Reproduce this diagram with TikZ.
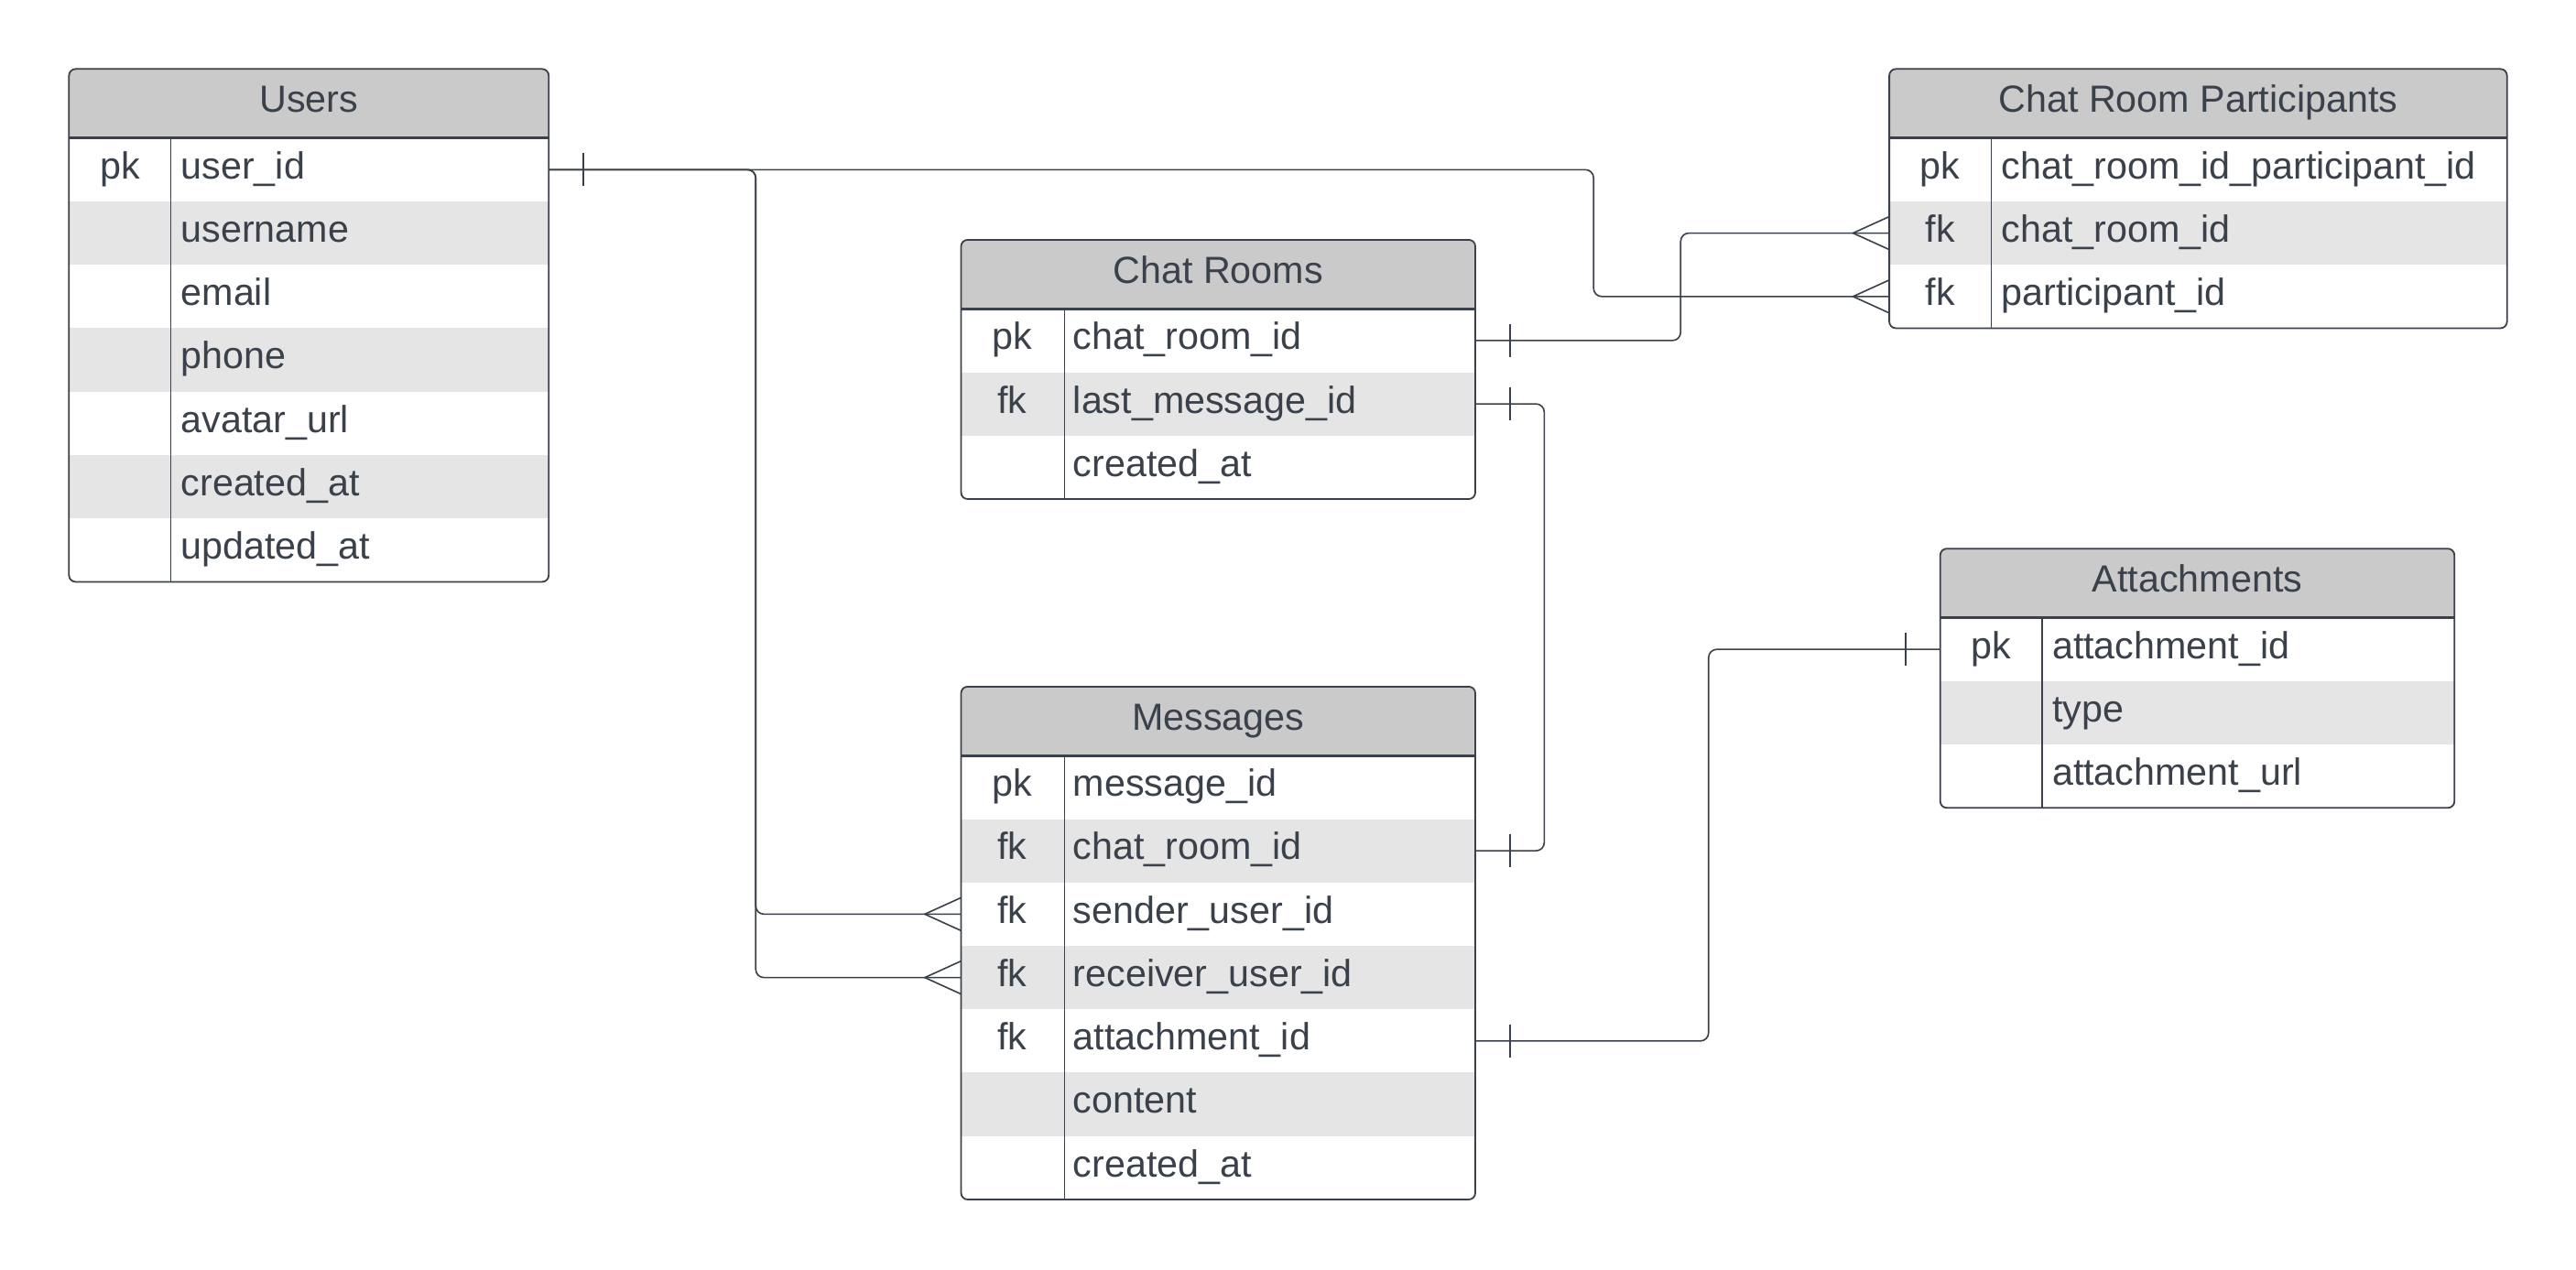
\documentclass[tikz,border=0pt]{standalone}
\usepackage{fontspec}
\setmainfont{Liberation Sans}
\usetikzlibrary{positioning,decorations.markings}
\definecolor{ink}{HTML}{3A414A}
\definecolor{headgray}{HTML}{CACACA}
\definecolor{rowgray}{HTML}{E5E5E5}
\tikzset{every node/.style={text=ink, font=\fontsize{23}{27}\selectfont, text height=17pt, text depth=6pt},
  tblhead/.style={minimum width=#1, minimum height=42pt, inner sep=0pt, outer sep=0pt, fill=headgray, rounded corners=4pt, anchor=north west},
  tblrow/.style 2 args={minimum width=#2, minimum height=38.6pt, inner sep=0pt, outer sep=0pt, fill=#1},
  keycell/.style={anchor=center, xshift=31pt, inner sep=0pt},
  fldcell/.style={anchor=west, xshift=68pt, inner sep=0pt},
  tblframe/.style={draw=ink, line width=1pt, rounded corners=4pt},
  hsep/.style={draw=ink, line width=1.4pt},
  vsep/.style={draw=ink, line width=0.6pt},
  relline/.style={draw=ink, line width=0.9pt, rounded corners=5pt},
  mk/.style={draw=ink, line width=0.9pt, sharp corners},
  onemark/.style={postaction={decorate, decoration={markings, mark=at position 21pt with {\draw[mk] (0,-10pt) -- (0,10pt);}}}},
  oneendmark/.style={postaction={decorate, decoration={markings, mark=at position -21pt with {\draw[mk] (0,-10pt) -- (0,10pt);}}}},
  manymark/.style={postaction={decorate, decoration={markings, mark=at position -0.1pt with {\draw[mk] (0,10pt) -- (-22pt,0pt) -- (0,-10pt);}}}}}

\begin{document}
\begin{tikzpicture}[x=1pt, y=-1pt]
\useasboundingbox (0,0) rectangle (1568,773);

% Users
\node[tblhead=292pt] (u) at (42,42) {Users};
\node[tblrow={white}{292pt}, label={[keycell]west:pk}, label={[fldcell]west:user\_id}] (u1) [below=0pt of u] {};
\node[tblrow={rowgray}{292pt}, label={[fldcell]west:username}] (u2) [below=0pt of u1] {};
\node[tblrow={white}{292pt}, label={[fldcell]west:email}] (u3) [below=0pt of u2] {};
\node[tblrow={rowgray}{292pt}, label={[fldcell]west:phone}] (u4) [below=0pt of u3] {};
\node[tblrow={white}{292pt}, label={[fldcell]west:avatar\_url}] (u5) [below=0pt of u4] {};
\node[tblrow={rowgray}{292pt}, label={[fldcell]west:created\_at}] (u6) [below=0pt of u5] {};
\node[tblrow={white}{292pt}, label={[fldcell]west:updated\_at}] (u7) [below=0pt of u6] {};
\fill[headgray] ([yshift=5pt]u.south west) rectangle (u.south east);
\draw[tblframe] (u.north west) rectangle (u7.south east);
\draw[hsep] (u.south west) -- (u.south east);
\draw[vsep] ([xshift=62pt]u.south west) -- ([xshift=62pt]u7.south west);

% Chat Rooms
\node[tblhead=313pt] (cr) at (585,146) {Chat Rooms};
\node[tblrow={white}{313pt}, label={[keycell]west:pk}, label={[fldcell]west:chat\_room\_id}] (cr1) [below=0pt of cr] {};
\node[tblrow={rowgray}{313pt}, label={[keycell]west:fk}, label={[fldcell]west:last\_message\_id}] (cr2) [below=0pt of cr1] {};
\node[tblrow={white}{313pt}, label={[fldcell]west:created\_at}] (cr3) [below=0pt of cr2] {};
\fill[headgray] ([yshift=5pt]cr.south west) rectangle (cr.south east);
\draw[tblframe] (cr.north west) rectangle (cr3.south east);
\draw[hsep] (cr.south west) -- (cr.south east);
\draw[vsep] ([xshift=63pt]cr.south west) -- ([xshift=63pt]cr3.south west);

% Messages
\node[tblhead=313pt] (m) at (585,418) {Messages};
\node[tblrow={white}{313pt}, label={[keycell]west:pk}, label={[fldcell]west:message\_id}] (m1) [below=0pt of m] {};
\node[tblrow={rowgray}{313pt}, label={[keycell]west:fk}, label={[fldcell]west:chat\_room\_id}] (m2) [below=0pt of m1] {};
\node[tblrow={white}{313pt}, label={[keycell]west:fk}, label={[fldcell]west:sender\_user\_id}] (m3) [below=0pt of m2] {};
\node[tblrow={rowgray}{313pt}, label={[keycell]west:fk}, label={[fldcell]west:receiver\_user\_id}] (m4) [below=0pt of m3] {};
\node[tblrow={white}{313pt}, label={[keycell]west:fk}, label={[fldcell]west:attachment\_id}] (m5) [below=0pt of m4] {};
\node[tblrow={rowgray}{313pt}, label={[fldcell]west:content}] (m6) [below=0pt of m5] {};
\node[tblrow={white}{313pt}, label={[fldcell]west:created\_at}] (m7) [below=0pt of m6] {};
\fill[headgray] ([yshift=5pt]m.south west) rectangle (m.south east);
\draw[tblframe] (m.north west) rectangle (m7.south east);
\draw[hsep] (m.south west) -- (m.south east);
\draw[vsep] ([xshift=63pt]m.south west) -- ([xshift=63pt]m7.south west);

% Chat Room Participants
\node[tblhead=376pt] (crp) at (1150,42) {Chat Room Participants};
\node[tblrow={white}{376pt}, label={[keycell]west:pk}, label={[fldcell]west:chat\_room\_id\_participant\_id}] (crp1) [below=0pt of crp] {};
\node[tblrow={rowgray}{376pt}, label={[keycell]west:fk}, label={[fldcell]west:chat\_room\_id}] (crp2) [below=0pt of crp1] {};
\node[tblrow={white}{376pt}, label={[keycell]west:fk}, label={[fldcell]west:participant\_id}] (crp3) [below=0pt of crp2] {};
\fill[headgray] ([yshift=5pt]crp.south west) rectangle (crp.south east);
\draw[tblframe] (crp.north west) rectangle (crp3.south east);
\draw[hsep] (crp.south west) -- (crp.south east);
\draw[vsep] ([xshift=62pt]crp.south west) -- ([xshift=62pt]crp3.south west);

% Attachments
\node[tblhead=313pt] (a) at (1181,334) {Attachments};
\node[tblrow={white}{313pt}, label={[keycell]west:pk}, label={[fldcell]west:attachment\_id}] (a1) [below=0pt of a] {};
\node[tblrow={rowgray}{313pt}, label={[fldcell]west:type}] (a2) [below=0pt of a1] {};
\node[tblrow={white}{313pt}, label={[fldcell]west:attachment\_url}] (a3) [below=0pt of a2] {};
\fill[headgray] ([yshift=5pt]a.south west) rectangle (a.south east);
\draw[tblframe] (a.north west) rectangle (a3.south east);
\draw[hsep] (a.south west) -- (a.south east);
\draw[vsep] ([xshift=62pt]a.south west) -- ([xshift=62pt]a3.south west);

% relations
\draw[relline, onemark, manymark] (u1.east) -- ++(636,0) |- (crp3.west);
\draw[relline, onemark, manymark] (u1.east) -- ++(126,0) |- (m3.west);
\draw[relline, onemark, manymark] (u1.east) -- ++(126,0) |- (m4.west);
\draw[relline, onemark, manymark] (cr1.east) -- ++(125,0) |- (crp2.west);
\draw[relline, onemark, oneendmark] (cr2.east) -- ++(42,0) |- (m2.east);
\draw[relline, onemark, oneendmark] (m5.east) -- ++(142,0) |- (a1.west);

\end{tikzpicture}
\end{document}
